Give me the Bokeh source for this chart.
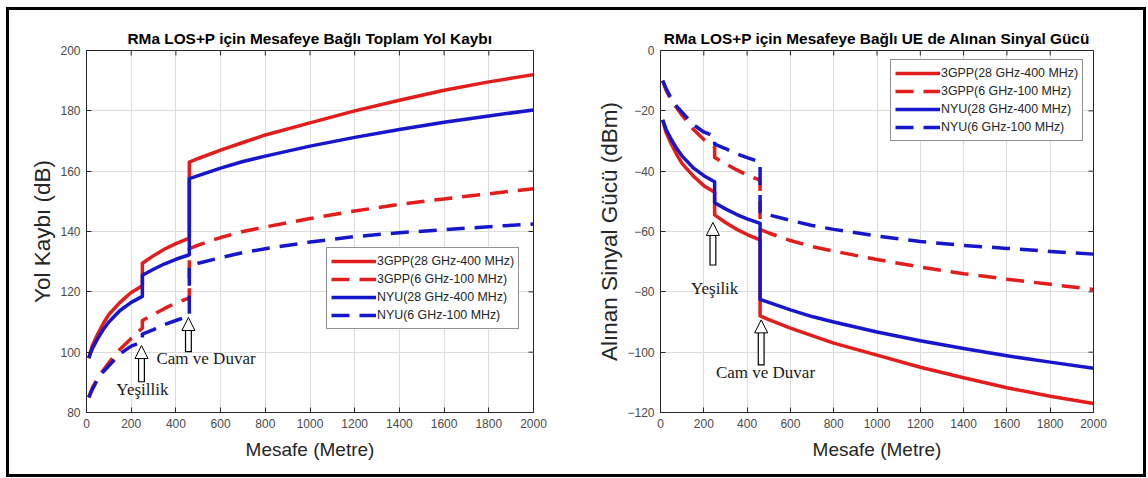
from bokeh.plotting import figure
from bokeh.layouts import row
from bokeh.models import (Range1d, SingleIntervalTicker, Legend, LegendItem,
                          Arrow, NormalHead, Label)
from bokeh.embed import file_html
from bokeh.resources import INLINE
import math

# distance samples (m); repeated points carry the vertical penetration steps
distance = [10, 25, 50, 75, 100, 150, 200, 250, 250, 300, 350, 400, 460, 460,
            500, 600, 700, 800, 1000, 1200, 1400, 1600, 1800, 2000]

# total path loss (dB)
pl_3gpp_28 = [98, 102, 106, 109.5, 112.5, 116.5, 119.8, 122, 129.5, 132, 134.2, 136, 137.8, 163,
              164.2, 167, 169.5, 172, 176, 180, 183.5, 186.8, 189.6, 192]
pl_3gpp_6 = [85, 88, 91.5, 94, 96.5, 101, 104.5, 108, 110.5, 112.5, 114.5, 116.3, 118, 134.3,
             135.5, 138, 140, 141.5, 144.3, 146.8, 149, 150.8, 152.5, 154.2]
pl_nyu_28 = [98, 101, 104.5, 107.5, 110, 113.8, 116.5, 118.5, 125.5, 127.5, 129.3, 130.8, 132.3, 157.5,
             158.5, 161, 163.2, 165, 168.3, 171.2, 173.8, 176.2, 178.3, 180.3]
pl_nyu_6 = [85, 87.5, 91, 93.5, 95.5, 99.5, 102, 103.5, 106, 107.5, 109.2, 110.5, 112, 128.5,
            129.5, 131.3, 133, 134.3, 136.5, 138.3, 139.6, 140.6, 141.6, 142.5]

# received signal power at the UE (dBm)
rx_3gpp_28 = [-23, -27, -31, -34.5, -37.5, -41.5, -44.8, -47, -54.5, -57, -59.2, -61, -62.8, -88,
              -89.2, -92, -94.5, -97, -101, -105, -108.5, -111.8, -114.6, -117]
rx_3gpp_6 = [-10, -13, -16.5, -19, -21.5, -26, -29.5, -32, -35.5, -37.5, -39.5, -41.3, -43, -59.3,
             -60.5, -63, -65, -66.5, -69.3, -71.8, -74, -75.8, -77.5, -79.2]
rx_nyu_28 = [-23, -26, -29.5, -32.5, -35, -38.8, -41.5, -43.5, -50.5, -52.5, -54.3, -55.8, -57.3, -82.5,
             -83.5, -86, -88.2, -90, -93.3, -96.2, -98.8, -101.2, -103.3, -105.3]
rx_nyu_6 = [-10, -12.5, -16, -18.5, -20.5, -24.5, -27, -28.5, -31, -32.5, -34.2, -35.5, -37, -53.5,
            -54.5, -56.3, -58, -59.3, -61.5, -63.3, -64.6, -65.6, -66.6, -67.5]

series_labels = ["3GPP(28 GHz-400 MHz)", "3GPP(6 GHz-100 MHz)",
                 "NYU(28 GHz-400 MHz)", "NYU(6 GHz-100 MHz)"]

x_ticks = list(range(0, 2001, 200))

RED = "#e31c1c"
BLUE = "#1616cc"
styles = [(RED, "solid"), (RED, "18 10"), (BLUE, "solid"), (BLUE, "18 10")]

SANS = "Liberation Sans"
SERIF = "Liberation Serif"
TXT = "#262626"


def panel(title, ylabel, y0, y1, curves, legend_xy, arrows, notes, right_border):
    p = figure(width=574, height=478, output_backend="svg", toolbar_location=None,
               x_range=Range1d(0, 2000), y_range=Range1d(y0, y1),
               min_border_left=86, min_border_right=right_border,
               min_border_top=50, min_border_bottom=66,
               background_fill_color="white", border_fill_alpha=0)
    p.outline_line_color = TXT
    p.outline_line_width = 1

    p.title.text = title
    p.title.text_font = SANS
    p.title.text_font_size = "15.4px"
    p.title.text_font_style = "bold"
    p.title.text_color = "black"
    p.title.align = "center"
    p.title.standoff = 7

    for ax, lab in ((p.xaxis[0], "Mesafe (Metre)"), (p.yaxis[0], ylabel)):
        ax.axis_label = lab
        ax.axis_label_text_font = SANS
        ax.axis_label_text_font_style = "normal"
        ax.axis_label_text_color = TXT
        ax.major_label_text_font = SANS
        ax.major_label_text_font_size = "12px"
        ax.major_label_text_color = "#4a4a4a"
        ax.axis_line_color = TXT
        ax.major_tick_line_color = TXT
        ax.major_tick_in = 5
        ax.major_tick_out = 0
        ax.minor_tick_line_color = None
    p.xaxis[0].axis_label_text_font_size = "19px"
    p.yaxis[0].axis_label_text_font_size = "22.5px"
    p.xaxis[0].ticker = SingleIntervalTicker(interval=200, num_minor_ticks=0)
    p.yaxis[0].ticker = SingleIntervalTicker(interval=20, num_minor_ticks=0)
    p.xaxis[0].major_label_standoff = 6
    p.yaxis[0].major_label_standoff = 6
    p.xaxis[0].axis_label_standoff = 8
    p.yaxis[0].axis_label_standoff = 2

    p.xgrid.ticker = SingleIntervalTicker(interval=200, num_minor_ticks=0)
    p.ygrid.ticker = SingleIntervalTicker(interval=20, num_minor_ticks=0)
    p.grid.grid_line_color = "#dcdcdc"
    p.grid.grid_line_width = 1

    # inward tick marks on the top and right sides of the box (half clipped by the frame)
    y_ticks = list(range(y0, y1 + 1, 20))
    p.scatter(x_ticks, [y1] * len(x_ticks), marker="dash", size=10, angle=math.pi / 2,
              line_color=TXT, line_width=1)
    p.scatter([2000] * len(y_ticks), y_ticks, marker="dash", size=10,
              line_color=TXT, line_width=1)

    items = []
    for vals, lab, (col, dash) in zip(curves, series_labels, styles):
        r = p.line(distance, vals, line_color=col, line_width=3.5, line_dash=dash,
                   line_join="round")
        items.append(LegendItem(label=lab, renderers=[r]))

    leg = Legend(items=items, location=legend_xy, glyph_width=45, glyph_height=18,
                 label_height=18, spacing=0, padding=4, margin=0, label_standoff=1,
                 label_text_font=SANS, label_text_font_size="12.4px",
                 label_text_color=TXT, border_line_color=TXT, border_line_width=1,
                 background_fill_color="white", background_fill_alpha=1)
    p.add_layout(leg, "center")

    # hollow arrows pointing at the penetration steps
    dy = (y1 - y0) / 362.0
    for ax_, tip, tail in arrows:
        p.segment(x0=[ax_], y0=[tail], x1=[ax_], y1=[tip - 10 * dy],
                  line_color="black", line_width=7, line_cap="butt")
        p.segment(x0=[ax_], y0=[tail + 1.2 * dy], x1=[ax_], y1=[tip - 9 * dy],
                  line_color="white", line_width=4.6, line_cap="butt")
        p.add_layout(Arrow(end=NormalHead(size=13, fill_color="white",
                                          line_color="black", line_width=1),
                           x_start=ax_, y_start=tip - dy, x_end=ax_, y_end=tip,
                           line_alpha=0))
    for txt, tx, ty, al in notes:
        p.add_layout(Label(x=tx, y=ty, text=txt, text_font=SERIF,
                           text_font_size="17px", text_align=al,
                           text_baseline="middle", text_color="#1a1a1a"))
    return p


left = panel("RMa LOS+P için Mesafeye Bağlı Toplam Yol Kaybı", "Yol Kaybı (dB)",
             80, 200, [pl_3gpp_28, pl_3gpp_6, pl_nyu_28, pl_nyu_6], (240, 83),
             [(246, 102.2, 90), (456, 111.5, 100)],
             [("Yeşillik", 250, 87.6, "center"), ("Cam ve Duvar", 313, 97.9, "left")],
             41)
right = panel("RMa LOS+P için Mesafeye Bağlı UE de Alınan Sinyal Gücü",
              "Alınan Sinyal Gücü (dBm)", -120, 0,
              [rx_3gpp_28, rx_3gpp_6, rx_nyu_28, rx_nyu_6], (230, 271),
              [(242, -57, -71.3), (465, -89.3, -104.4)],
              [("Yeşilik", 250, -78.9, "center"), ("Cam ve Duvar", 485, -106.7, "center")],
              55)

# black frame drawn around both panels, behind the transparent canvases
frame_css = ("inset 6px 7px 0 0 white, inset -2px -1px 0 0 white, "
             "inset 9px 10px 0 0 black, inset -5px -4px 0 0 black")
layout = row(left, right, styles={"box-shadow": frame_css, "background-color": "white"})
open("out.html", "w").write(file_html(layout, INLINE))
